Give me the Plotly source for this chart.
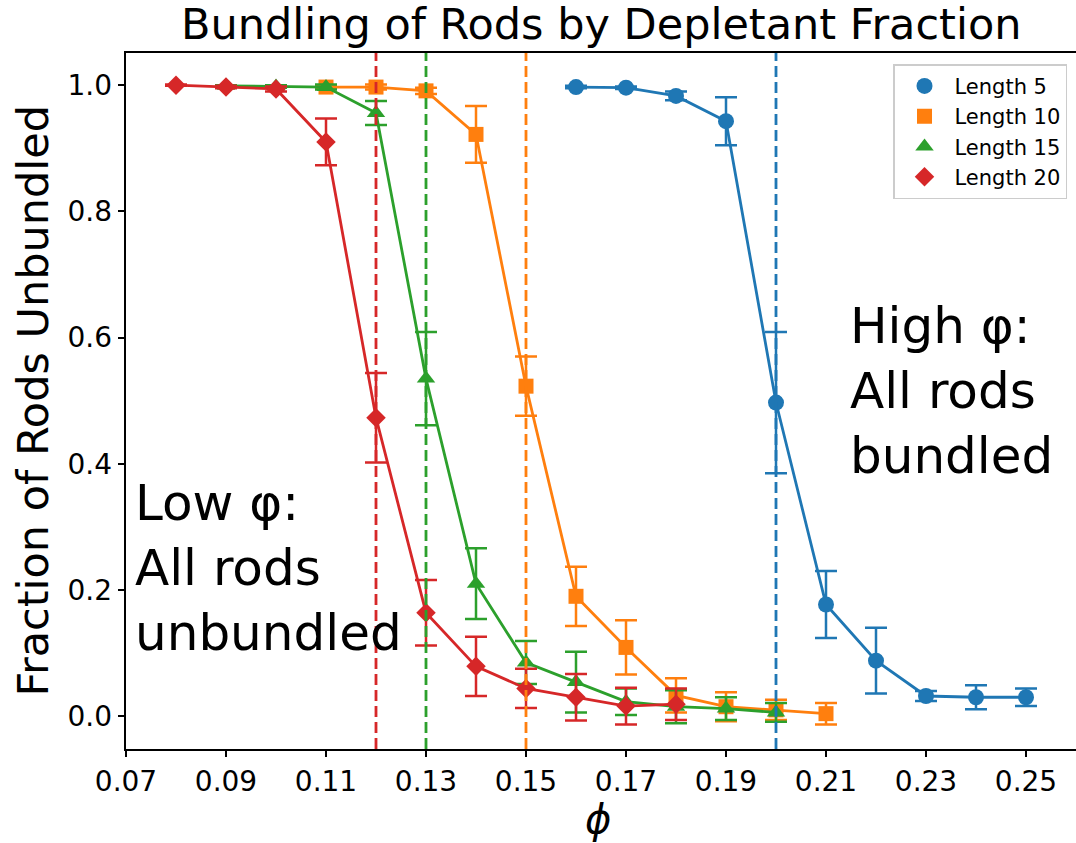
import plotly.graph_objects as go

# ---- data ----
x5 = [0.16, 0.17, 0.18, 0.19, 0.20, 0.21, 0.22, 0.23, 0.24, 0.25]
y5 = [0.997, 0.996, 0.983, 0.943, 0.497, 0.177, 0.088, 0.032, 0.030, 0.030]
e5 = [0.002, 0.002, 0.007, 0.038, 0.112, 0.053, 0.052, 0.008, 0.019, 0.014]

x10 = [0.11, 0.12, 0.13, 0.14, 0.15, 0.16, 0.17, 0.18, 0.19, 0.20, 0.21]
y10 = [0.997, 0.997, 0.991, 0.922, 0.523, 0.190, 0.109, 0.033, 0.015, 0.010, 0.004]
e10 = [0.003, 0.004, 0.005, 0.045, 0.047, 0.047, 0.043, 0.027, 0.023, 0.016, 0.017]

x15 = [0.09, 0.10, 0.11, 0.12, 0.13, 0.14, 0.15, 0.16, 0.17, 0.18, 0.19, 0.20]
y15 = [0.999, 0.998, 0.997, 0.956, 0.535, 0.210, 0.085, 0.054, 0.023, 0.015, 0.012, 0.006]
e15 = [0.001, 0.002, 0.004, 0.019, 0.074, 0.056, 0.034, 0.048, 0.021, 0.026, 0.018, 0.015]

x20 = [0.08, 0.09, 0.10, 0.11, 0.12, 0.13, 0.14, 0.15, 0.16, 0.17, 0.18]
y20 = [1.000, 0.997, 0.994, 0.910, 0.473, 0.164, 0.079, 0.044, 0.030, 0.016, 0.019]
e20 = [0.001, 0.002, 0.004, 0.037, 0.071, 0.052, 0.047, 0.031, 0.037, 0.029, 0.025]

names = ["Length 5", "Length 10", "Length 15", "Length 20"]
colors = ["#1f77b4", "#ff7f0e", "#2ca02c", "#d62728"]
symbols = ["circle", "square", "triangle-up", "diamond"]
msizes = [16, 15, 16, 15]
thresholds = [0.20, 0.15, 0.13, 0.12]

xticks = [0.07, 0.09, 0.11, 0.13, 0.15, 0.17, 0.19, 0.21, 0.23, 0.25]
yticks = [0.0, 0.2, 0.4, 0.6, 0.8, 1.0]

W, H = 1076, 843
L, R, T, B = 125.5, 0, 52.7, 94.3
PW, PH = W - L - R, H - T - B

def px(xp):
    return (xp - L) / PW

def py(yp):
    return (H - B - yp) / PH

FONT = "DejaVu Sans"

fig = go.Figure()
series = [(x5, y5, e5), (x10, y10, e10), (x15, y15, e15), (x20, y20, e20)]
for i, (xs, ys, es) in enumerate(series):
    fig.add_trace(go.Scatter(
        x=xs, y=ys, mode="lines", showlegend=False, hoverinfo="skip",
        line=dict(color=colors[i], width=2.8),
    ))
    fig.add_trace(go.Scatter(
        x=xs, y=ys, mode="markers", name=names[i],
        marker=dict(color=colors[i], symbol=symbols[i], size=msizes[i], line=dict(width=0)),
        error_y=dict(type="data", array=es, visible=True, color=colors[i],
                     thickness=2.5, width=11),
    ))

for i, t in enumerate(thresholds):
    fig.add_shape(type="line", xref="x", yref="paper", x0=t, x1=t, y0=0, y1=1,
                  line=dict(color=colors[i], width=2.8, dash="11px,5px"), layer="above")

fig.add_annotation(
    text="Low φ:<br>All rods<br>unbundled", xref="paper", yref="paper",
    x=px(133), y=py(472), xanchor="left", yanchor="top", align="left", showarrow=False,
    font=dict(family=FONT, size=50, color="black"),
)
fig.add_annotation(
    text="High φ:<br>All rods<br>bundled", xref="paper", yref="paper",
    x=px(848), y=py(295), xanchor="left", yanchor="top", align="left", showarrow=False,
    font=dict(family=FONT, size=50, color="black"),
)
fig.add_annotation(
    text="Fraction of Rods Unbundled", xref="paper", yref="paper",
    x=px(32), y=0.5, xanchor="center", yanchor="middle", textangle=-90, showarrow=False,
    font=dict(family=FONT, size=43, color="black"),
)
fig.add_annotation(
    text="<i>ϕ</i>", xref="paper", yref="paper",
    x=px(598), y=py(819), xanchor="center", yanchor="middle", showarrow=False,
    font=dict(family=FONT, size=40, color="black"),
)

fig.update_layout(
    width=W, height=H,
    margin=dict(l=L, r=R, t=T, b=B, pad=0),
    paper_bgcolor="white", plot_bgcolor="white",
    font=dict(family=FONT, color="black"),
    title=dict(text="Bundling of Rods by Depletant Fraction", x=px(601), xanchor="center",
               xref="paper", yref="container", y=1 - 24 / H, yanchor="middle",
               font=dict(family=FONT, size=43, color="black")),
    showlegend=True,
    legend=dict(x=px(1067), xanchor="right", y=py(64), yanchor="top",
                bgcolor="white", bordercolor="#cccccc", borderwidth=1.5,
                itemwidth=50,
                font=dict(family=FONT, size=21, color="black")),
)
fig.update_xaxes(
    range=[0.07, 0.26], tickvals=xticks, ticktext=[f"{v:.2f}" for v in xticks],
    showgrid=False, zeroline=False, showline=True, linecolor="black", linewidth=1.8,
    mirror=True, ticks="outside", ticklen=6.5, tickwidth=1.8, tickcolor="black",
    tickfont=dict(family=FONT, size=28, color="black"),
)
fig.update_yaxes(
    range=[-0.052, 1.051], tickvals=yticks, ticktext=[f"{v:.1f}" for v in yticks],
    showgrid=False, zeroline=False, showline=True, linecolor="black", linewidth=1.8,
    mirror=False, ticks="outside", ticklen=6.5, tickwidth=1.8, tickcolor="black",
    tickfont=dict(family=FONT, size=28, color="black"),
)

fig.write_html("out.html")
